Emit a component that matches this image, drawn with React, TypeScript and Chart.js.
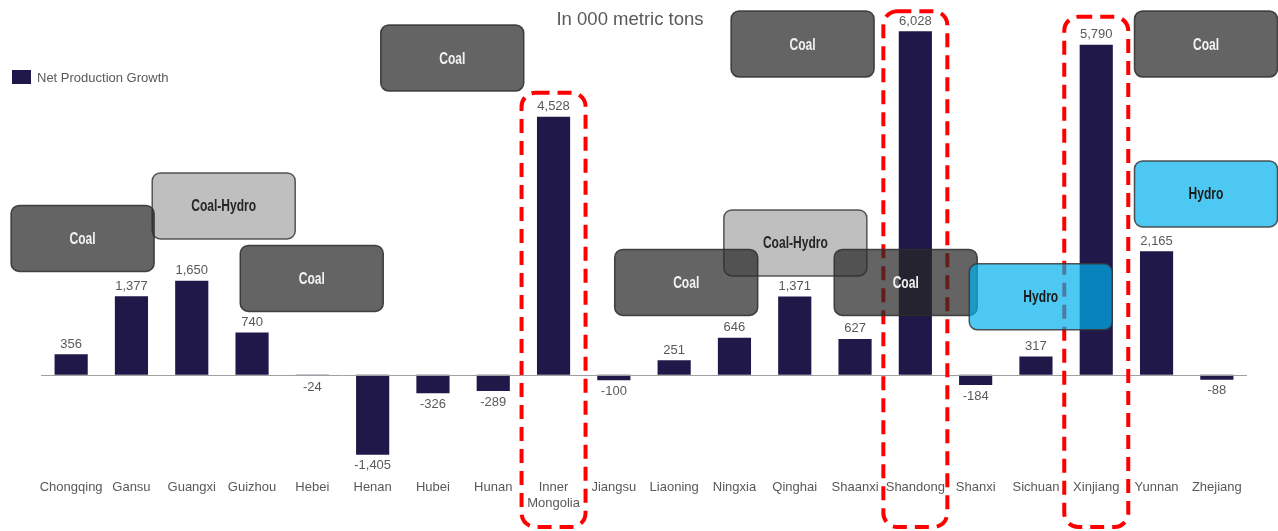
import { useEffect, useRef } from "react";
import { Chart, registerables } from "chart.js";

Chart.register(...registerables);

const WIDTH = 1278;
const HEIGHT = 531;

// Provinces on the category axis
const provinces: (string | string[])[] = [
  "Chongqing", "Gansu", "Guangxi", "Guizhou", "Hebei", "Henan", "Hubei", "Hunan",
  ["Inner", "Mongolia"], "Jiangsu", "Liaoning", "Ningxia", "Qinghai", "Shaanxi",
  "Shandong", "Shanxi", "Sichuan", "Xinjiang", "Yunnan", "Zhejiang",
];

// Net production growth, in 000 metric tons
const netProductionGrowth = [
  356, 1377, 1650, 740, -24, -1405, -326, -289, 4528, -100,
  251, 646, 1371, 627, 6028, -184, 317, 5790, 2165, -88,
];

// Provinces framed with a red dashed outline, and the gap above each bar
const highlightedProvinces = [8, 14, 17];
const highlightHeadroom = [24, 20, 28];

// Generation-mix tags: kind, horizontal position (category units), vertical level (value units)
const tagKinds = ["coalHydro", "coalHydro", "coal", "coal", "coal", "coal", "coal", "coal", "coal", "hydro", "hydro"];
const tagTexts = ["Coal-Hydro", "Coal-Hydro", "Coal", "Coal", "Coal", "Coal", "Coal", "Coal", "Coal", "Hydro", "Hydro"];
const tagAt = [2.53, 12.01, 0.19, 3.99, 6.32, 12.13, 10.2, 13.84, 18.82, 16.08, 18.82];
const tagLevel = [2961, 2312, 2391, 1689, 5558, 5804, 1619, 1619, 5804, 1365, 3172];

const TEXT_GREY = "#595959";
const BAR_COLOR = "#201848";
const FONT = '"Liberation Sans", Arial, sans-serif';

const tagStyles: Record<string, { fill: string; stroke: string; text: string }> = {
  coal: { fill: "rgba(40,40,40,0.72)", stroke: "rgba(45,45,45,0.85)", text: "#f2f2f2" },
  coalHydro: { fill: "rgba(128,128,128,0.5)", stroke: "rgba(60,60,60,0.85)", text: "#262626" },
  hydro: { fill: "rgba(0,176,236,0.7)", stroke: "rgba(55,55,55,0.85)", text: "#1a1a1a" },
};

const fmt = (v: number) => v.toLocaleString("en-US");

function roundRect(ctx: CanvasRenderingContext2D, x: number, y: number, w: number, h: number, r: number) {
  ctx.beginPath();
  ctx.moveTo(x + r, y);
  ctx.lineTo(x + w - r, y);
  ctx.arcTo(x + w, y, x + w, y + r, r);
  ctx.lineTo(x + w, y + h - r);
  ctx.arcTo(x + w, y + h, x + w - r, y + h, r);
  ctx.lineTo(x + r, y + h);
  ctx.arcTo(x, y + h, x, y + h - r, r);
  ctx.lineTo(x, y + r);
  ctx.arcTo(x, y, x + r, y, r);
  ctx.closePath();
}

const annotations = {
  id: "annotations",
  afterDatasetsDraw(chart: Chart) {
    const { ctx, chartArea } = chart;
    const xs = chart.scales.x;
    const ys = chart.scales.y;
    const meta = chart.getDatasetMeta(0);
    const zero = ys.getPixelForValue(0);

    ctx.save();

    // zero line
    ctx.strokeStyle = "#a0a0a0";
    ctx.lineWidth = 1;
    ctx.beginPath();
    ctx.moveTo(chartArea.left, Math.round(zero) + 0.5);
    ctx.lineTo(chartArea.right, Math.round(zero) + 0.5);
    ctx.stroke();

    // value labels
    ctx.font = `13px ${FONT}`;
    ctx.fillStyle = TEXT_GREY;
    ctx.textAlign = "center";
    ctx.textBaseline = "middle";
    netProductionGrowth.forEach((v, i) => {
      const bar: any = meta.data[i];
      const y = v >= 0 ? bar.y - 10 : bar.y + 11;
      ctx.fillText(fmt(v), bar.x, y);
    });

    // red dashed frames around key provinces
    ctx.strokeStyle = "#ff0000";
    ctx.lineWidth = 4;
    ctx.setLineDash([14, 8]);
    highlightedProvinces.forEach((i, k) => {
      const bar: any = meta.data[i];
      const top = bar.y - highlightHeadroom[k];
      const bottom = 527;
      roundRect(ctx, bar.x - 32, top, 64, bottom - top, 14);
      ctx.stroke();
    });
    ctx.setLineDash([]);

    // generation-mix tags
    const w = 143;
    const h = 66;
    tagTexts.forEach((t, k) => {
      const st = tagStyles[tagKinds[k]];
      const cx = xs.getPixelForValue(tagAt[k]);
      const cy = ys.getPixelForValue(tagLevel[k]);
      roundRect(ctx, cx - w / 2, cy - h / 2, w, h, 8);
      ctx.fillStyle = st.fill;
      ctx.fill();
      ctx.strokeStyle = st.stroke;
      ctx.lineWidth = 1.5;
      ctx.stroke();
      // condensed bold caption
      ctx.save();
      ctx.translate(cx, cy + 1);
      ctx.scale(0.73, 1);
      ctx.fillStyle = st.text;
      ctx.font = `bold 16.5px ${FONT}`;
      ctx.textAlign = "center";
      ctx.textBaseline = "middle";
      ctx.fillText(t, 0, 0);
      ctx.restore();
    });

    // title
    ctx.fillStyle = TEXT_GREY;
    ctx.font = `18.5px ${FONT}`;
    ctx.textAlign = "center";
    ctx.textBaseline = "middle";
    ctx.fillText("In 000 metric tons", 630, 20);

    // legend
    ctx.fillStyle = BAR_COLOR;
    ctx.fillRect(12, 70, 19, 14);
    ctx.fillStyle = TEXT_GREY;
    ctx.font = `13px ${FONT}`;
    ctx.textAlign = "left";
    ctx.fillText("Net Production Growth", 37, 78);

    ctx.restore();
  },
};

export default function App() {
  const canvasRef = useRef<HTMLCanvasElement | null>(null);

  useEffect(() => {
    const canvas = canvasRef.current;
    if (!canvas) return;
    const chart = new Chart(canvas, {
      type: "bar",
      data: {
        labels: provinces as any,
        datasets: [
          {
            label: "Net Production Growth",
            data: netProductionGrowth,
            backgroundColor: BAR_COLOR,
            borderWidth: 0,
            categoryPercentage: 1,
            barPercentage: 0.55,
          },
        ],
      },
      options: {
        responsive: false,
        animation: false,
        devicePixelRatio: 1,
        layout: { padding: { left: 41, right: 31, top: 10, bottom: 6 } },
        plugins: {
          legend: { display: false },
          title: { display: false },
          tooltip: { enabled: false },
        },
        scales: {
          x: {
            grid: { display: false, drawTicks: false },
            border: { display: false },
            ticks: {
              color: TEXT_GREY,
              font: { family: FONT, size: 13 },
              padding: 14,
              maxRotation: 0,
              autoSkip: false,
            },
          },
          y: { display: false, min: -1600, max: 6400 },
        },
      },
      plugins: [annotations],
    });
    return () => chart.destroy();
  }, []);

  return (
    <div style={{ position: "fixed", left: 0, top: 0, width: WIDTH, height: HEIGHT, background: "#fff" }}>
      <canvas ref={canvasRef} width={WIDTH} height={HEIGHT} style={{ display: "block", width: WIDTH, height: HEIGHT }} />
    </div>
  );
}
